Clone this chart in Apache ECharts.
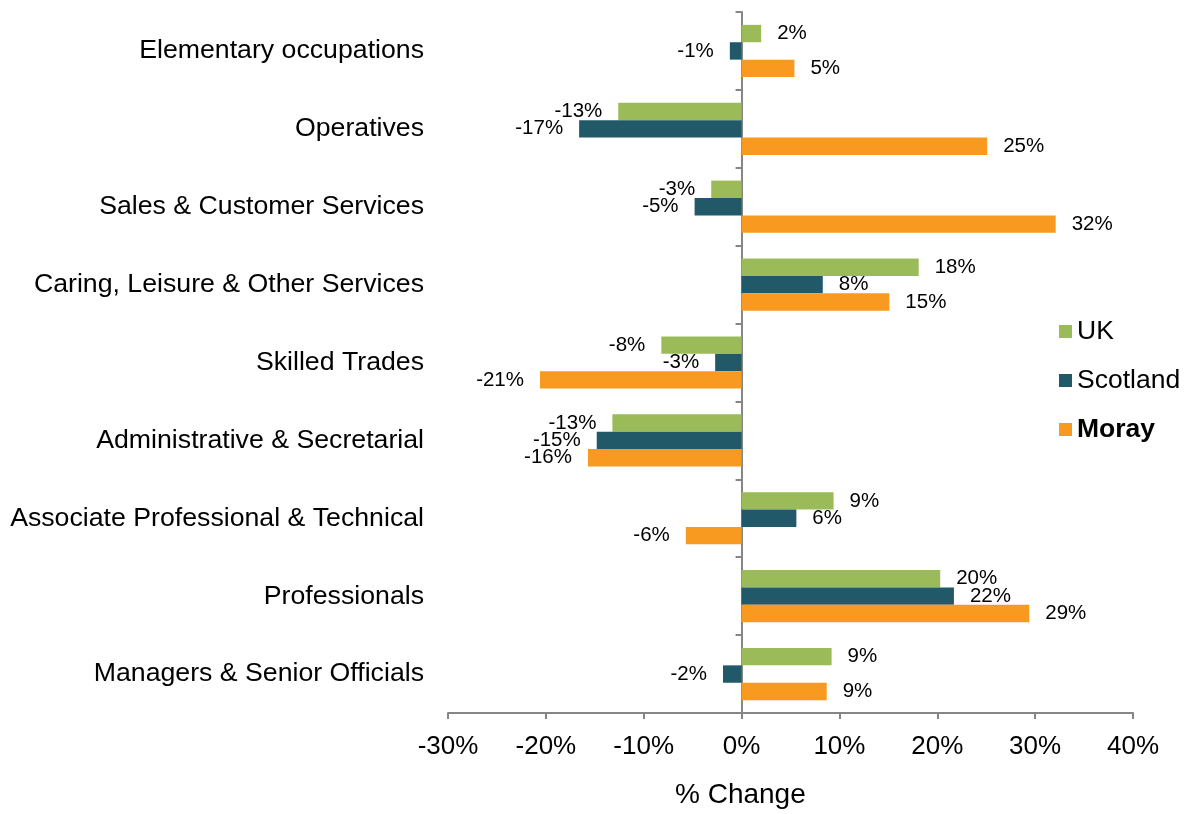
<!DOCTYPE html>
<html>
<head>
<meta charset="UTF-8">
<title></title>
<script src="https://cdn.jsdelivr.net/npm/echarts@6/dist/echarts.min.js"></script>
<style>
	html, body { width: 100%; height: 100%; margin: 0; padding: 0; background: #fff; }
	#chart { width: 1187px; height: 814px; }
</style>
</head>
<body>
<div id="chart"></div>
<script>
	// categories, bottom to top
	var categories = ['Managers & Senior Officials', 'Professionals', 'Associate Professional & Technical',
		'Administrative & Secretarial', 'Skilled Trades', 'Caring, Leisure & Other Services',
		'Sales & Customer Services', 'Operatives', 'Elementary occupations'];
	var ukValues = [9.2, 20.3, 9.4, -13.2, -8.2, 18.1, -3.1, -12.6, 2.0];
	var scotlandValues = [-1.9, 21.7, 5.6, -14.8, -2.7, 8.3, -4.8, -16.6, -1.2];
	var morayValues = [8.7, 29.4, -5.7, -15.7, -20.6, 15.1, 32.1, 25.1, 5.4];
	var xTicks = [-30, -20, -10, 0, 10, 20, 30, 40];

	var font = 'Liberation Sans, Arial, sans-serif';
	var axisGrey = '#868686';

	function makeData(values) {
		return values.map(function(v) {
			return {
				value: v,
				label: { position: v < 0 ? 'left' : 'right' }
			};
		});
	}

	function makeSeries(name, values, color) {
		return {
			name: name,
			type: 'bar',
			barGap: 0,
			barCategoryGap: '33%',
			yAxisIndex: 0,
			itemStyle: { color: color },
			label: {
				show: true,
				distance: 16,
				color: '#000',
				fontSize: 20.5,
				fontFamily: font,
				formatter: function(p) { return Math.round(p.value) + '%'; }
			},
			data: makeData(values)
		};
	}

	var chart = echarts.init(document.getElementById('chart'));
	chart.setOption({
		animation: false,
		textStyle: { fontFamily: font },
		title: {
			text: '% Change',
			left: 670,
			top: 776,
			textStyle: { fontSize: 28, fontWeight: 'normal', color: '#000', fontFamily: font }
		},
		legend: {
			orient: 'vertical',
			left: 1054,
			top: 313,
			icon: 'rect',
			itemWidth: 13,
			itemHeight: 13,
			itemGap: 22,
			textStyle: { fontSize: 26.5, color: '#000', fontFamily: font },
			data: ['UK', 'Scotland', { name: 'Moray', textStyle: { fontWeight: 'bold' } }]
		},
		grid: { left: 448, right: 54, top: 12, bottom: 101, containLabel: false },
		xAxis: {
			type: 'value',
			min: xTicks[0],
			max: xTicks[xTicks.length - 1],
			interval: 10,
			splitLine: { show: false },
			axisLine: { show: true, lineStyle: { color: axisGrey, width: 2 } },
			axisTick: { show: true, length: 6, lineStyle: { color: axisGrey, width: 2 } },
			axisLabel: {
				fontSize: 26, color: '#000', margin: 21, fontFamily: font,
				formatter: '{value}%'
			}
		},
		yAxis: [{
			type: 'category',
			data: categories,
			position: 'left',
			axisLine: { show: false, onZero: false },
			axisTick: { show: false },
			axisLabel: { fontSize: 26.7, color: '#000', margin: 24, fontFamily: font, padding: [4, 0, 0, 0] }
		}, {
			type: 'category',
			data: categories,
			position: 'left',
			axisLine: { show: true, onZero: true, lineStyle: { color: axisGrey, width: 2 } },
			axisTick: { show: true, length: 6, lineStyle: { color: axisGrey, width: 2 } },
			axisLabel: { show: false }
		}],
		series: [
			makeSeries('UK', ukValues, '#9BBB59'),
			makeSeries('Scotland', scotlandValues, '#215968'),
			makeSeries('Moray', morayValues, '#F79A1F')
		]
	});
</script>
</body>
</html>
